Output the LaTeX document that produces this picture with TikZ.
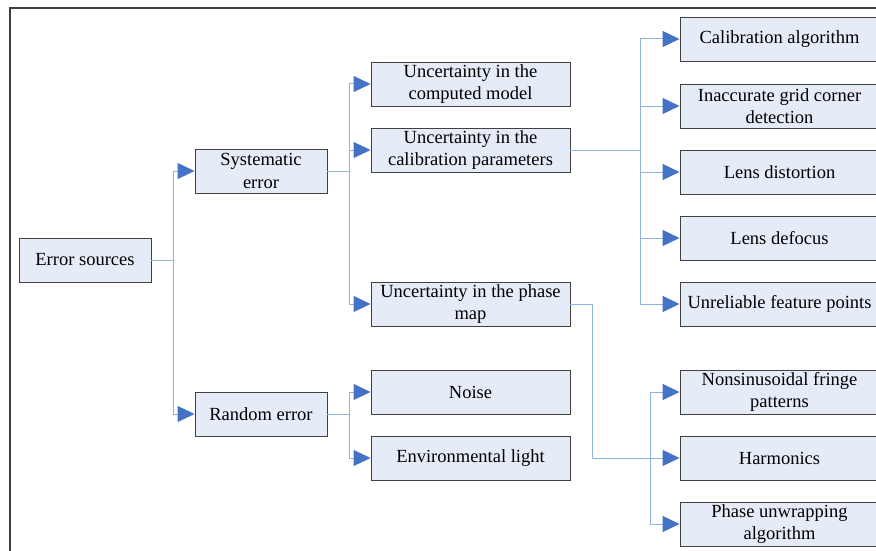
\documentclass[tikz,border=0pt]{standalone}
\usepackage{fontspec}
\setmainfont{Liberation Serif}
\usetikzlibrary{arrows.meta}
\definecolor{boxfill}{RGB}{230,236,247}
\definecolor{boxline}{RGB}{64,64,64}
\definecolor{linkline}{RGB}{141,179,226}
\definecolor{tipblue}{RGB}{68,114,196}
\begin{document}
\begin{tikzpicture}[x=1pt,y=-1pt,
  box/.style={draw=boxline,line width=0.9pt,fill=boxfill,minimum height=44pt,inner sep=0pt,
    align=center,font=\fontsize{18.5}{22.5}\selectfont},
  small/.style={box,minimum width=132pt},
  wide/.style={box,minimum width=199pt},
  link/.style={draw=linkline,line width=1pt,-{Triangle[length=17pt,width=16pt,color=tipblue,fill=tipblue]}},
  rail/.style={draw=linkline,line width=1pt}]
\clip (0,0) rectangle (876,551);
\draw[boxline,line width=1.4pt] (10,560)--(10,8)--(880,8);
\node[small] (src) at (85,260) {Error sources};
\node[small] (sys) at (261,171) {Systematic\\error};
\node[small] (rnd) at (261,414) {Random error};
\node[wide] (model) at (470.5,84) {Uncertainty in the\\computed model};
\node[wide] (calib) at (470.5,150) {Uncertainty in the\\calibration parameters};
\node[wide] (phase) at (470.5,304) {Uncertainty in the phase\\map};
\node[wide] (noise) at (470.5,392) {Noise};
\node[wide] (env) at (470.5,458) {Environmental light};
\node[wide] (algo) at (779.5,39) {Calibration algorithm};
\node[wide] (grid) at (779.5,106) {Inaccurate grid corner\\detection};
\node[wide] (dist) at (779.5,172) {Lens distortion};
\node[wide] (defoc) at (779.5,238) {Lens defocus};
\node[wide] (unrel) at (779.5,304) {Unreliable feature points};
\node[wide] (nonsin) at (779.5,392) {Nonsinusoidal fringe\\patterns};
\node[wide] (harm) at (779.5,458) {Harmonics};
\node[wide] (unwrap) at (779.5,524) {Phase unwrapping\\algorithm};
% first and second level
\draw[link] (src.east)--++(22,0)|-(sys.west); \draw[link] (src.east)--++(22,0)|-(rnd.west);
\draw[link] (sys.east)--++(22,0)|-(model.west); \draw[link] (sys.east)--++(22,0)|-(calib.west);
\draw[link] (sys.east)--++(22,0)|-(phase.west);
\draw[link] (rnd.east)--++(22,0)|-(noise.west); \draw[link] (rnd.east)--++(22,0)|-(env.west);
% calibration parameters
\foreach \n in {algo,grid,dist,defoc,unrel} \draw[link] (calib.east)--++(70,0)|-(\n.west);
% phase map
\draw[link] (phase.east)--++(22,0)|-(harm.west);
\coordinate (fork) at (650,458);
\draw[link] (fork)|-(nonsin.west); \draw[link] (fork)|-(unwrap.west);
\end{tikzpicture}
\end{document}
